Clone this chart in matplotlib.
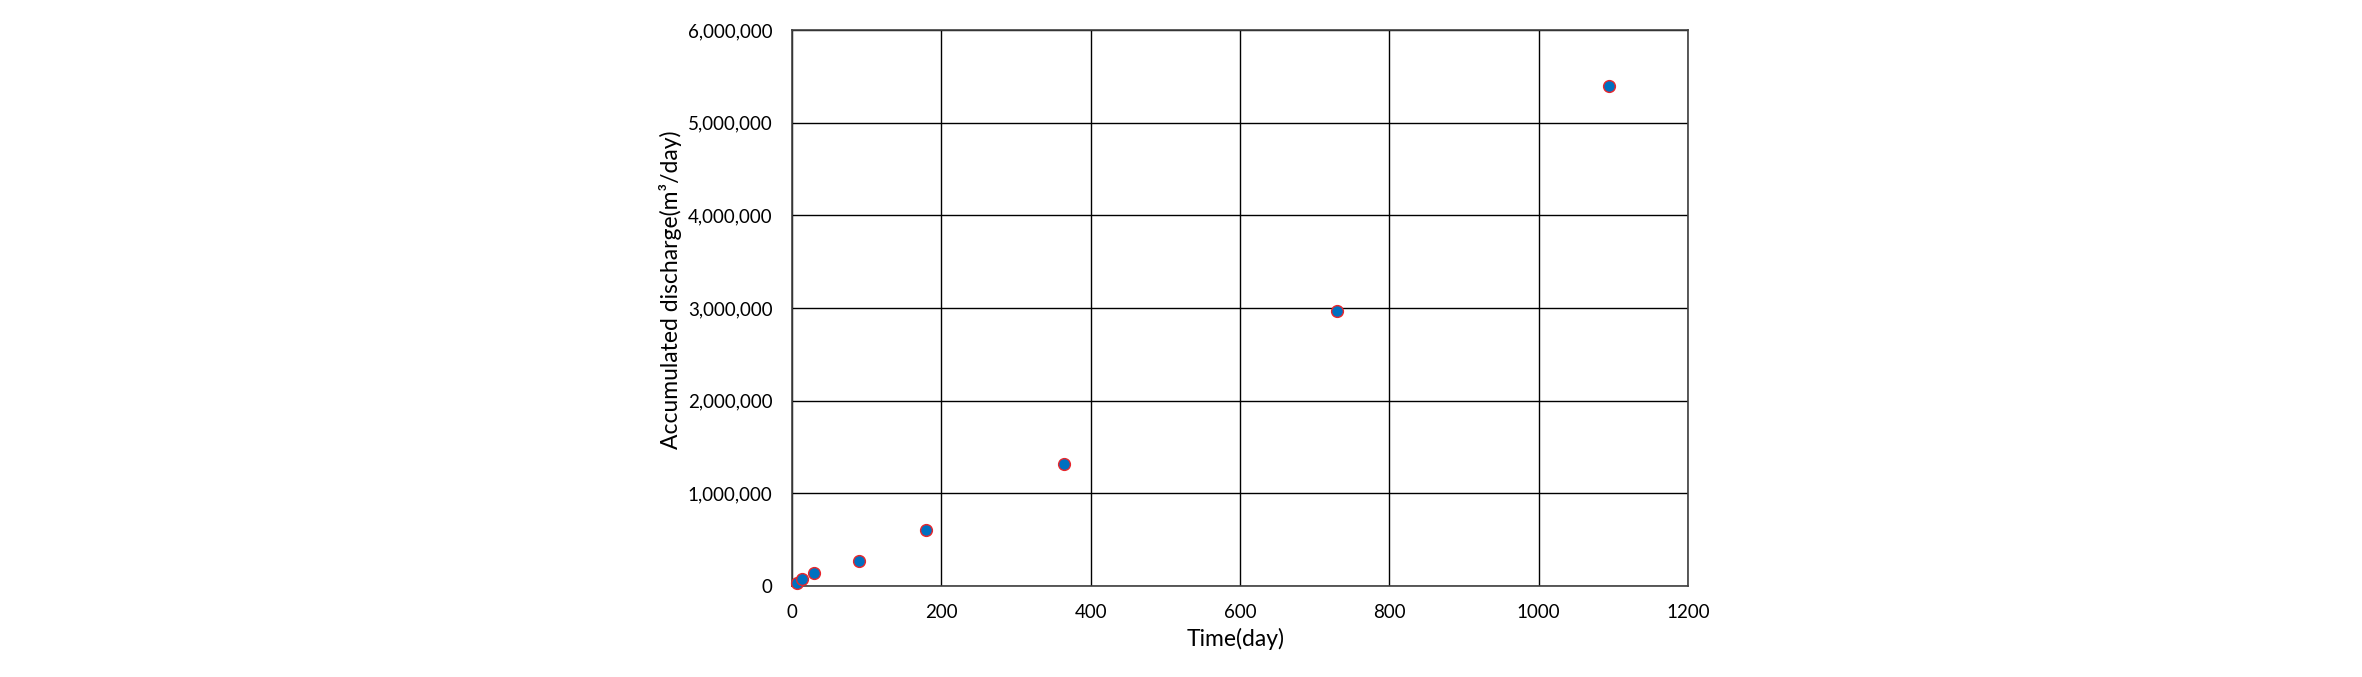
import matplotlib
matplotlib.use("Agg")
import matplotlib.pyplot as plt
from matplotlib.ticker import FuncFormatter, MultipleLocator

plt.rcParams['font.family'] = ['Lato', 'DejaVu Sans']

# elapsed time (day) and accumulated discharge
days = [7, 14, 30, 90, 180, 365, 730, 1095]
discharge = [30000, 75000, 137000, 273000, 600000, 1320000, 2970000, 5400000]

fig = plt.figure(figsize=(23.62, 6.77), dpi=100)
ax = fig.add_axes([0.3353, 0.1344, 0.3793, 0.8213])

ax.plot(days, discharge, linestyle='none', marker='o', markersize=8.5,
        markerfacecolor='#0070C0', markeredgecolor='#E8262C',
        markeredgewidth=1.0, zorder=5, clip_on=False)

ax.set_xlim(0, 1200)
ax.set_ylim(0, 6000000)
ax.xaxis.set_major_locator(MultipleLocator(200))
ax.yaxis.set_major_locator(MultipleLocator(1000000))
ax.yaxis.set_major_formatter(FuncFormatter(lambda v, p: '{:,.0f}'.format(v)))

ax.grid(True, color='black', linewidth=1.0)
ax.set_axisbelow(True)
for s in ax.spines.values():
    s.set_color('#404040')
    s.set_linewidth(1.2)

ax.tick_params(axis='both', length=0, labelsize=13.5, colors='black')
ax.tick_params(axis='y', pad=14)
ax.tick_params(axis='x', pad=13)

ax.set_xlabel('Time(day)', fontsize=16.5, labelpad=5, x=0.495)
ax.set_ylabel('Accumulated discharge(m\u00b3/day)', fontsize=16.5,
              labelpad=4, y=0.532)

fig.savefig('out.png', dpi=100)
